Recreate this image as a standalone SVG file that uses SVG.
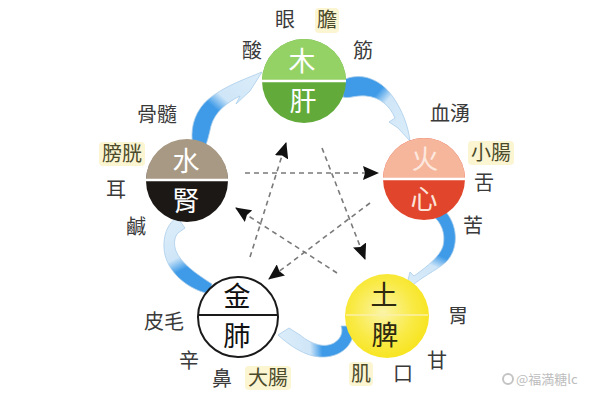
<svg xmlns="http://www.w3.org/2000/svg" width="600" height="400" viewBox="0 0 600 400">
<defs>
<style>
.lb{font-family:"Noto Sans CJK TC","Noto Sans CJK SC",sans-serif;font-size:20px;fill:#3a3a3a;text-anchor:middle}
.hl{fill:#4b4a2a}
.bg{fill:#fbf5d2}
.big{font-family:"Noto Sans CJK TC","Noto Sans CJK SC",sans-serif;font-size:27px;text-anchor:middle}
.dash{fill:none;stroke:#7a7a7a;stroke-width:1.6;stroke-dasharray:5 4;marker-end:url(#ah)}
.rib{stroke:#a9cdea;stroke-width:0.8}
</style>
<marker id="ah" viewBox="0 0 16 14" refX="15" refY="7" markerWidth="16" markerHeight="14" markerUnits="userSpaceOnUse" orient="auto">
<path d="M0,0 L16,7 L0,14 L2,7 Z" fill="#111"/>
</marker>
<radialGradient id="earthG" cx="0.45" cy="0.45" r="0.6">
<stop offset="0" stop-color="#fbf4a6"/>
<stop offset="0.6" stop-color="#f9ea45"/>
<stop offset="1" stop-color="#f7e31a"/>
</radialGradient>
<linearGradient id="b1" gradientUnits="userSpaceOnUse" x1="345" y1="85" x2="410" y2="140">
<stop offset="0.35" stop-color="#3f9be8"/><stop offset="0.5" stop-color="#cfe6f8"/><stop offset="1" stop-color="#dcedf9"/>
</linearGradient>
<linearGradient id="b2" gradientUnits="userSpaceOnUse" x1="440" y1="215" x2="406" y2="290">
<stop offset="0.45" stop-color="#3f9be8"/><stop offset="0.6" stop-color="#cfe6f8"/><stop offset="1" stop-color="#dcedf9"/>
</linearGradient>
<linearGradient id="b3" gradientUnits="userSpaceOnUse" x1="352" y1="330" x2="278" y2="335">
<stop offset="0.42" stop-color="#3f9be8"/><stop offset="0.58" stop-color="#cfe6f8"/><stop offset="1" stop-color="#dcedf9"/>
</linearGradient>
<linearGradient id="b4" gradientUnits="userSpaceOnUse" x1="212" y1="292" x2="176" y2="218">
<stop offset="0.4" stop-color="#3f9be8"/><stop offset="0.56" stop-color="#cfe6f8"/><stop offset="1" stop-color="#dcedf9"/>
</linearGradient>
<linearGradient id="b5" gradientUnits="userSpaceOnUse" x1="196" y1="148" x2="262" y2="72">
<stop offset="0.42" stop-color="#3f9be8"/><stop offset="0.56" stop-color="#cfe6f8"/><stop offset="1" stop-color="#dcedf9"/>
</linearGradient>
</defs>
<rect width="600" height="400" fill="#ffffff"/>

<g id="connectors">
<path class="rib" fill="url(#b1)" d="M343,80 C360,72 380,78 393,97 C402,110 408,125 410,141 L398,128 L389,122 L395,118 C390,106 380,97 366,96 C356,95 349,99 343,97 Z"/>
<path class="rib" fill="url(#b2)" d="M432,215 L446,212 C459,228 458,250 446,262 C436,271 420,277 405,292 L410,272 L414,276 C428,266 440,256 443,246 C446,233 441,222 432,215 Z"/>
<path class="rib" fill="url(#b3)" d="M341,326 L354,326 C355,345 341,358 320,357 C305,356 290,346 278,335 L289,328 L300,335 C312,345 325,348 334,343 C342,338 343,331 341,326 Z"/>
<path class="rib" fill="url(#b4)" d="M212,284 C195,273 181,263 176,251 C173,243 175,236 178,233 L185,228 L177,217 C165,226 162,241 165,255 C170,275 190,290 210,294 Z"/>
<path class="rib" fill="url(#b5)" d="M193,146 C189,125 197,106 214,95 C228,85 245,79 262,72 L250,91 L236,104 L240,96 C226,103 215,112 211,126 C209,135 207,143 204,150 Z"/>
<line class="dash" x1="250" y1="257" x2="286" y2="143"/>
<line class="dash" x1="245" y1="173" x2="378" y2="173"/>
<line class="dash" x1="322" y1="148" x2="365" y2="259"/>
<line class="dash" x1="370" y1="203" x2="269" y2="279"/>
<line class="dash" x1="337" y1="273" x2="236" y2="208"/>
</g>

<g id="wood">
<circle cx="304" cy="81" r="42" fill="#62ab3b"/>
<path d="M262,81 A42,42 0 0 1 346,81 Z" fill="#95d266"/>
<line x1="262" y1="81" x2="346" y2="81" stroke="#ffffff" stroke-width="2.5"/>
<text class="big" x="302" y="71" fill="#ffffff">木</text>
<text class="big" x="303" y="111" fill="#ffffff">肝</text>
<text class="lb" x="285" y="27">眼</text>
<rect class="bg" x="315" y="8" width="24" height="25" rx="4"/>
<text class="lb hl" x="327" y="27">膽</text>
<text class="lb" x="252" y="58">酸</text>
<text class="lb" x="363" y="58">筋</text>
</g>

<g id="fire">
<circle cx="424" cy="179" r="41" fill="#e1452b"/>
<path d="M383,179 A41,41 0 0 1 465,179 Z" fill="#f6b69c"/>
<line x1="383" y1="179" x2="465" y2="179" stroke="#ffffff" stroke-width="2.5"/>
<text class="big" x="425" y="169" fill="#fde8df">火</text>
<text class="big" x="424" y="209" fill="#fde3d8">心</text>
<text class="lb" x="450" y="121">血湧</text>
<rect class="bg" x="468" y="141" width="46" height="24" rx="4"/>
<text class="lb hl" x="491" y="160">小腸</text>
<text class="lb" x="484" y="190">舌</text>
<text class="lb" x="473" y="233">苦</text>
</g>

<g id="water">
<circle cx="187" cy="181" r="41" fill="#1c1815"/>
<path d="M146,180 A41,41 0 0 1 228,180 Z" fill="#a89984"/>
<line x1="146" y1="180" x2="228" y2="180" stroke="#ffffff" stroke-width="2.5"/>
<text class="big" x="186" y="171" fill="#ffffff">水</text>
<text class="big" x="186" y="211" fill="#ffffff">腎</text>
<text class="lb" x="157" y="122">骨髓</text>
<rect class="bg" x="99" y="142" width="46" height="24" rx="4"/>
<text class="lb hl" x="122" y="161">膀胱</text>
<text class="lb" x="116" y="197">耳</text>
<text class="lb" x="136" y="234">鹹</text>
</g>

<g id="metal">
<circle cx="238" cy="317" r="40" fill="#ffffff" stroke="#1a1a1a" stroke-width="2"/>
<line x1="198" y1="315" x2="278" y2="315" stroke="#1a1a1a" stroke-width="2"/>
<text class="big" x="237" y="306" fill="#111">金</text>
<text class="big" x="237" y="346" fill="#111">肺</text>
<text class="lb" x="164" y="329">皮毛</text>
<text class="lb" x="189" y="368">辛</text>
<text class="lb" x="222" y="386">鼻</text>
<rect class="bg" x="245" y="366" width="46" height="24" rx="4"/>
<text class="lb hl" x="268" y="385">大腸</text>
</g>

<g id="earth">
<circle cx="387" cy="316" r="42" fill="url(#earthG)"/>
<line x1="346" y1="315" x2="428" y2="315" stroke="#fbf0a8" stroke-width="1.5"/>
<text class="big" x="384" y="305" fill="#2d2a10">土</text>
<text class="big" x="385" y="345" fill="#2d2a10">脾</text>
<text class="lb" x="458" y="323">胃</text>
<text class="lb" x="437" y="368">甘</text>
<text class="lb" x="403" y="381">口</text>
<rect class="bg" x="349" y="362" width="24" height="24" rx="4"/>
<text class="lb hl" x="361" y="381">肌</text>
</g>

<g id="watermark">
<circle cx="508" cy="379" r="5" fill="none" stroke="#c4c4c4" stroke-width="2"/>
<text x="516" y="384" font-family="Noto Sans CJK SC, sans-serif" font-size="13" fill="#bdbdbd">@福満糖lc</text>
</g>
</svg>
